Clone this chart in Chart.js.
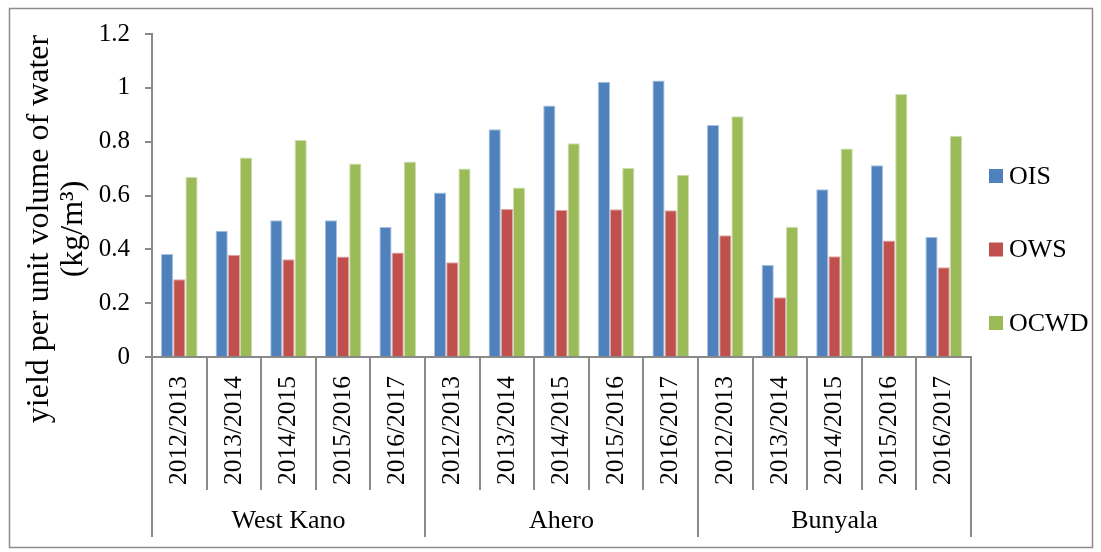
<!DOCTYPE html>
<html>
<head>
<meta charset="utf-8">
<script src="https://cdn.jsdelivr.net/npm/chart.js@4.4.1/dist/chart.umd.min.js"></script>
<style>
  html, body { margin: 0; padding: 0; background: #ffffff; }
  #wrap { position: relative; width: 1101px; height: 552px; }
</style>
</head>
<body>
<div id="wrap"><canvas id="chart" width="1101" height="552"></canvas></div>
<script>
// Irrigation schemes and cropping seasons
const schemes = ['West Kano', 'Ahero', 'Bunyala'];
const seasons = ['2012/2013', '2013/2014', '2014/2015', '2015/2016', '2016/2017'];
const categories = schemes.flatMap(() => seasons);

// Yield per unit volume of water (kg/m3), one value per scheme/season
const ois  = [0.383, 0.469, 0.508, 0.508, 0.483,  0.611, 0.846, 0.934, 1.023, 1.027,  0.862, 0.342, 0.623, 0.712, 0.447];
const ows  = [0.289, 0.380, 0.363, 0.373, 0.388,  0.352, 0.550, 0.546, 0.549, 0.545,  0.452, 0.222, 0.374, 0.433, 0.333];
const ocwd = [0.669, 0.741, 0.806, 0.719, 0.726,  0.700, 0.630, 0.794, 0.702, 0.677,  0.894, 0.484, 0.775, 0.977, 0.822];

const seriesNames = ['OIS', 'OWS', 'OCWD'];
const yTicks = [0, 0.2, 0.4, 0.6, 0.8, 1, 1.2];

const FONT = 'Liberation Serif';
const AXIS = '#8a8a8a';
const COLORS = ['#4F81BD', '#C0504D', '#9BBB59'];
const EDGES  = ['#A9C1E0', '#E0A9A7', '#CEDDAE'];

// White page with a thin grey frame
const framePlugin = {
  id: 'frame',
  beforeDraw(chart) {
    const c = chart.ctx;
    c.save();
    c.fillStyle = '#ffffff';
    c.fillRect(0, 0, chart.width, chart.height);
    c.strokeStyle = '#8c8c8c';
    c.lineWidth = 1.5;
    c.strokeRect(9.5, 8.5, 1083, 539);
    c.restore();
  }
};

// Two-line rotated title for the value axis
const yTitlePlugin = {
  id: 'yTitle',
  afterDraw(chart) {
    const c = chart.ctx;
    c.save();
    c.fillStyle = '#000000';
    c.font = '32px "' + FONT + '"';
    c.textAlign = 'center';
    c.textBaseline = 'middle';
    const lines = ['yield per unit volume of water', '(kg/m\u00B3)'];
    const xs = [40, 74];
    lines.forEach((t, i) => {
      c.save();
      c.translate(xs[i], 229);
      c.rotate(-Math.PI / 2);
      c.fillText(t, 0, 0);
      c.restore();
    });
    c.restore();
  }
};

// Legend column to the right of the plot
const sideLegendPlugin = {
  id: 'sideLegend',
  afterDraw(chart) {
    const c = chart.ctx;
    c.save();
    c.font = '26px "' + FONT + '"';
    c.textAlign = 'left';
    c.textBaseline = 'middle';
    chart.data.datasets.forEach((ds, i) => {
      const cy = 176 + i * 73.5;
      c.fillStyle = ds.backgroundColor;
      c.fillRect(989, cy - 7, 14, 14);
      c.fillStyle = '#000000';
      c.fillText(ds.label, 1009, cy + 1);
    });
    c.restore();
  }
};

const seriesData = [ois, ows, ocwd];

new Chart(document.getElementById('chart').getContext('2d'), {
  type: 'bar',
  data: {
    labels: categories,
    datasets: seriesNames.map((name, i) => ({
      label: name,
      data: seriesData[i],
      backgroundColor: COLORS[i],
      borderColor: EDGES[i],
      borderWidth: { top: 1, left: 1, right: 1, bottom: 0 },
      xAxisID: 'x',
      yAxisID: 'y'
    }))
  },
  options: {
    responsive: false,
    animation: false,
    devicePixelRatio: 1,
    layout: { padding: { left: 0, right: 130, top: 34, bottom: 0 } },
    datasets: { bar: { categoryPercentage: 0.67, barPercentage: 1.0 } },
    plugins: {
      legend: { display: false },
      tooltip: { enabled: false }
    },
    scales: {
      x: {
        type: 'category',
        position: 'bottom',
        weight: 0,
        offset: true,
        grid: { offset: true, drawOnChartArea: false, drawTicks: true, tickLength: 133, color: AXIS, lineWidth: 2 },
        border: { display: true, color: AXIS, width: 2 },
        ticks: {
          autoSkip: false, minRotation: 90, maxRotation: 90, padding: -114,
          color: '#000000', font: { family: FONT, size: 25.5 }
        },
        afterFit(scale) { scale.height = 133; }
      },
      xg: {
        type: 'category',
        labels: schemes,
        position: 'bottom',
        weight: 1,
        offset: true,
        grid: { offset: true, drawOnChartArea: false, drawTicks: true, tickLength: 47, color: AXIS, lineWidth: 2 },
        border: { display: false },
        ticks: { padding: -31, color: '#000000', font: { family: FONT, size: 26 } },
        afterFit(scale) { scale.height = 62; }
      },
      y: {
        position: 'left',
        min: 0,
        max: 1.2,
        afterBuildTicks(scale) { scale.ticks = yTicks.map(v => ({ value: v })); },
        grid: { drawOnChartArea: false, drawTicks: true, tickLength: 7, color: AXIS, lineWidth: 2 },
        border: { display: true, color: AXIS, width: 2 },
        ticks: { padding: 15, color: '#000000', font: { family: FONT, size: 25 }, callback: v => String(v) },
        afterFit(scale) { scale.width = 152; }
      }
    }
  },
  plugins: [framePlugin, yTitlePlugin, sideLegendPlugin]
});
</script>
</body>
</html>
